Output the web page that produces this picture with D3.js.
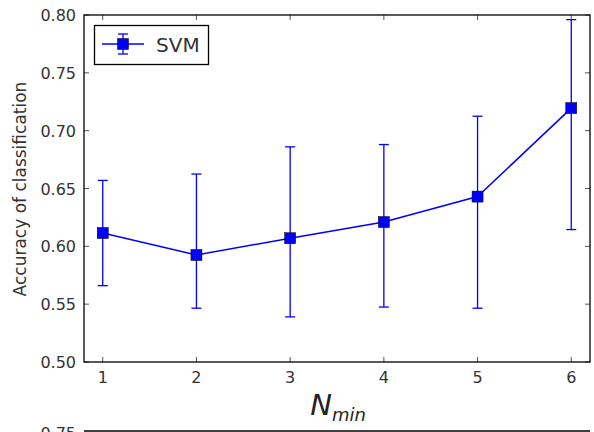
<!DOCTYPE html>
<html><head><meta charset="utf-8">
<script src="https://cdn.jsdelivr.net/npm/d3@7"></script>
<style>body{margin:0;background:#fff}svg{display:block}text{font-family:"DejaVu Sans",sans-serif}</style>
</head><body><svg id="c" width="594" height="432"></svg>
<script>
const nmin = [1, 2, 3, 4, 5, 6];
const accuracy = [0.6115, 0.5925, 0.607, 0.621, 0.643, 0.7195];
const errLow = [0.566, 0.5465, 0.539, 0.5475, 0.5465, 0.6145];
const errHigh = [0.657, 0.6625, 0.686, 0.688, 0.7125, 0.796];
const yTicks = [0.50, 0.55, 0.60, 0.65, 0.70, 0.75, 0.80];
const xTicks = [1, 2, 3, 4, 5, 6];

const svg = d3.select("#c");
const L = 84, R = 590, T = 15, B = 362;
const x = d3.scaleLinear().domain([0.8, 6.2]).range([L, R]);
const y = d3.scaleLinear().domain([0.5, 0.8]).range([B, T]);
const blue = "#0000ff";
const txt = "#333";

const g = svg.append("g");
xTicks.forEach(t => {
  g.append("line").attr("x1", x(t)).attr("x2", x(t)).attr("y1", B).attr("y2", B - 5).attr("stroke", "#555");
  g.append("line").attr("x1", x(t)).attr("x2", x(t)).attr("y1", T).attr("y2", T + 5).attr("stroke", "#555");
  g.append("text").attr("x", x(t)).attr("y", B + 21).attr("text-anchor", "middle").attr("font-size", 16).attr("fill", txt).text(t);
});
yTicks.forEach(t => {
  g.append("line").attr("x1", L).attr("x2", L + 5).attr("y1", y(t)).attr("y2", y(t)).attr("stroke", "#555");
  g.append("line").attr("x1", R).attr("x2", R - 5).attr("y1", y(t)).attr("y2", y(t)).attr("stroke", "#555");
  g.append("text").attr("x", L - 8).attr("y", y(t) + 6).attr("text-anchor", "end").attr("font-size", 16).attr("fill", txt).text(t.toFixed(2));
});

const data = nmin.map((n, i) => ({n, v: accuracy[i], lo: errLow[i], hi: errHigh[i]}));
const eb = svg.append("g").attr("stroke", blue).attr("stroke-width", 1.3);
data.forEach(d => {
  eb.append("line").attr("x1", x(d.n)).attr("x2", x(d.n)).attr("y1", y(d.lo)).attr("y2", y(d.hi));
  [d.lo, d.hi].forEach(v => eb.append("line").attr("x1", x(d.n) - 5).attr("x2", x(d.n) + 5).attr("y1", y(v)).attr("y2", y(v)));
});
svg.append("path").datum(data).attr("fill", "none").attr("stroke", blue).attr("stroke-width", 1.5)
  .attr("d", d3.line().x(d => x(d.n)).y(d => y(d.v)));
svg.selectAll("rect.m").data(data).enter().append("rect").attr("class", "m")
  .attr("x", d => x(d.n) - 5.5).attr("y", d => y(d.v) - 5.5).attr("width", 11).attr("height", 11)
  .attr("fill", blue).attr("stroke", "#000").attr("stroke-width", 0.5);

svg.append("rect").attr("x", L).attr("y", T).attr("width", R - L).attr("height", B - T)
  .attr("fill", "none").attr("stroke", "#000").attr("stroke-width", 1.3);

const lg = svg.append("g");
lg.append("rect").attr("x", 94.5).attr("y", 25.5).attr("width", 114).attr("height", 39).attr("fill", "#fff").attr("stroke", "#000").attr("stroke-width", 1.3);
lg.append("line").attr("x1", 102).attr("x2", 144).attr("y1", 44).attr("y2", 44).attr("stroke", blue).attr("stroke-width", 1.5);
lg.append("line").attr("x1", 123).attr("x2", 123).attr("y1", 34).attr("y2", 54).attr("stroke", blue).attr("stroke-width", 1.3);
[34, 54].forEach(v => lg.append("line").attr("x1", 118).attr("x2", 128).attr("y1", v).attr("y2", v).attr("stroke", blue).attr("stroke-width", 1.3));
lg.append("rect").attr("x", 117.5).attr("y", 38.5).attr("width", 11).attr("height", 11).attr("fill", blue).attr("stroke", "#000").attr("stroke-width", 0.5);
lg.append("text").attr("x", 156).attr("y", 52).attr("font-size", 20).attr("fill", txt).text("SVM");

svg.append("text").attr("transform", `translate(26,${(79 + 299) / 2}) rotate(-90)`).attr("text-anchor", "middle")
  .attr("font-size", 17).attr("fill", txt).text("Accuracy of classification");
const xl = svg.append("text").attr("x", 338).attr("y", 415).attr("text-anchor", "middle")
  .attr("font-family", "Liberation Serif, serif").attr("font-style", "italic").attr("fill", "#222");
xl.append("tspan").attr("font-size", 29).text("N");
xl.append("tspan").attr("font-size", 18).attr("dy", 6).text("min");

svg.append("line").attr("x1", L).attr("x2", R).attr("y1", 431).attr("y2", 431).attr("stroke", "#000").attr("stroke-width", 1.3);
svg.append("text").attr("x", L - 8).attr("y", 439).attr("text-anchor", "end").attr("font-size", 16).attr("fill", txt).text("0.75");
</script></body></html>
